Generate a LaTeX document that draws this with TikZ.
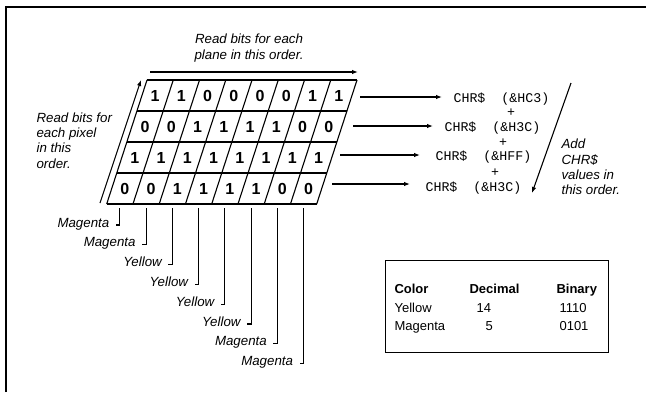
\documentclass[tikz,border=0pt]{standalone}
\usepackage{fontspec}
\setmainfont{Liberation Sans}
\setmonofont{Liberation Mono}
\usetikzlibrary{arrows.meta}
\begin{document}
\begin{tikzpicture}[x=1pt,y=-1pt, line width=1.1pt,
  lbl/.style={font=\fontsize{13.3}{15.2}\selectfont\itshape, inner sep=0pt},
  digit/.style={font=\fontsize{16}{16}\selectfont\bfseries, inner sep=0pt},
  code/.style={font=\fontsize{13.3}{15}\selectfont\ttfamily, inner sep=0pt},
  tab/.style={font=\fontsize{13}{15}\selectfont, inner sep=0pt, anchor=base west},
  tabh/.style={font=\fontsize{13}{15}\selectfont\bfseries, inner sep=0pt, anchor=base west},
  arr/.style={-{Latex[length=6pt,width=4.5pt]}}]
\useasboundingbox (0,0) rectangle (646,392);
% frame
\draw[line width=1.4pt] (6,392) -- (6,7) -- (646,7);
% grid
\foreach \j in {0,...,8} { \draw ({147+26.25*\j},80) -- ({106.7+26.25*\j},204); }
\foreach \i in {0,...,4} { \draw ({147-0.325*31*\i},{80+31*\i}) -- ({357-0.325*31*\i},{80+31*\i}); }
% digits
\foreach \row [count=\i from 0] in {{1,1,0,0,0,0,1,1},{0,0,1,1,1,1,0,0},{1,1,1,1,1,1,1,1},{0,0,1,1,1,1,0,0}} {
  \foreach \d [count=\j from 0] in \row {
    \node[digit] (d\i\j) at ({147-0.325*(15.5+31*\i)+26.25*(\j+0.5)},{95.5+31*\i}) {\d};
  }
}
% top label and arrow
\node[lbl, align=center] (toplbl) at (249,48) {Read bits for each\\plane in this order.};
\coordinate (ta0) at (150,72);
\coordinate (ta1) at (358,72);
\draw[arr] (ta0) -- (ta1);
% left label and arrow
\node[lbl, align=left, anchor=west] (leftlbl) at (36,140.5) {Read bits for\\each pixel\\in this\\order.};
\coordinate (la0) at (100,203);
\coordinate (la1) at (141,80);
\draw[arr] (la0) -- (la1);
% CHR$ lines
\node[code, anchor=west] (c0) at (453,99) {CHR\$\ \ (\&HC3)};
\node[code, anchor=west] (c1) at (444,128) {CHR\$\ \ (\&H3C)};
\node[code, anchor=west] (c2) at (435,157.5) {CHR\$\ \ (\&HFF)};
\node[code, anchor=west] (c3) at (425,188) {CHR\$\ \ (\&H3C)};
\node[code] (p0) at (511,113) {+};
\node[code] (p1) at (503,142.5) {+};
\node[code] (p2) at (495,172.5) {+};
\coordinate (r0) at (360,97);
\coordinate (r1) at (353,126);
\coordinate (r2) at (340,155);
\coordinate (r3) at (332,184);
\draw[arr, shorten >=11pt] (r0) -- (r0 -| c0.west);
\draw[arr, shorten >=11pt] (r1) -- (r1 -| c1.west);
\draw[arr, shorten >=15pt] (r2) -- (r2 -| c2.west);
\draw[arr, shorten >=15pt] (r3) -- (r3 -| c3.west);
% right slanted arrow and label
\coordinate (ra0) at (571,83);
\coordinate (ra1) at (532,193);
\draw[arr] (ra0) -- (ra1);
\node[lbl, align=left, anchor=west] (addlbl) at (561,167) {Add\\CHR\$\\values in\\this order.};
% leaders
\foreach \name [count=\j from 0] in {Magenta,Magenta,Yellow,Yellow,Yellow,Yellow,Magenta,Magenta} {
  \coordinate (b\j) at ({106.7+26.25*(\j+0.5)},208);
  \coordinate (e\j) at ({106.7+26.25*(\j+0.5)},{225+19.8*\j});
  \draw (b\j) -- (e\j) -- ++(-4,0);
  \node[lbl, anchor=base east] (l\j) at ({106.7+26.25*(\j+0.5)-10},{227+19.8*\j}) {\name};
}
% table
\node[draw, line width=1.3pt, minimum width=223pt, minimum height=92pt, anchor=north west, inner sep=0pt] (tbl) at (385,260) {};
\node[tabh] (h0) at (394,293) {Color};
\node[tabh] (h1) at (469,293) {Decimal};
\node[tabh] (h2) at (556,293) {Binary};
\node[tab] (y0) at (394,312) {Yellow};
\node[tab] (y1) at (476,312) {14};
\node[tab] (y2) at (559,312) {1110};
\node[tab] (m0) at (394,330) {Magenta};
\node[tab] (m1) at (485,330) {5};
\node[tab] (m2) at (559,330) {0101};
\end{tikzpicture}
\end{document}
